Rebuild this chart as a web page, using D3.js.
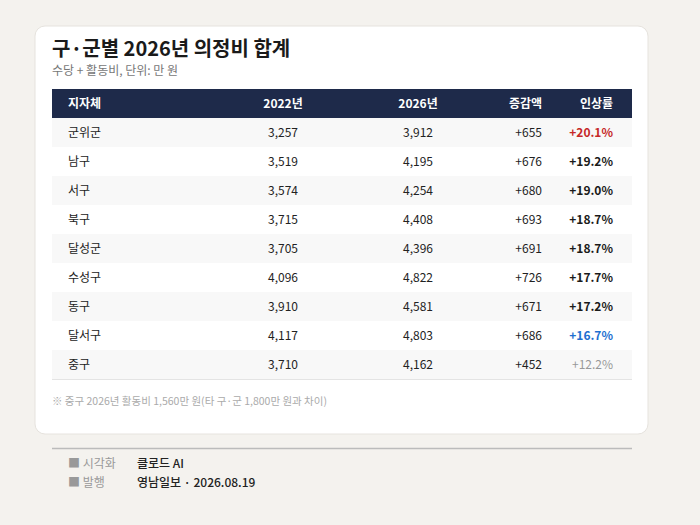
<!DOCTYPE html>
<html><head><meta charset="utf-8">
<script src="https://cdn.jsdelivr.net/npm/d3@7"></script>
<style>body{margin:0;background:#f4f2ee}svg{display:block;font-family:"Noto Sans CJK KR","Noto Sans",sans-serif}</style>
</head><body><svg id="canvas"></svg>
<script>
let width=700, height=525

const regions = ["군위군","남구","서구","북구","달성군","수성구","동구","달서구","중구"]
const y2022 = [3257,3519,3574,3715,3705,4096,3910,4117,3710]
const y2026 = [3912,4195,4254,4408,4396,4822,4581,4803,4162]
const rates = [20.1,19.2,19.0,18.7,18.7,17.7,17.2,16.7,12.2]
const headers = ["지자체","2022년","2026년","증감액","인상률"]

let svg = d3.select('#canvas').attr("width",width).attr("height",height)
let fmt = d3.format(",")

svg.append("rect").attr("width",width).attr("height",height).attr("fill","#f4f2ee")
svg.append("rect").attr("x",35).attr("y",26).attr("width",613).attr("height",408).attr("rx",10)
  .attr("fill","white").attr("stroke","#e6e3de")

svg.append("text").attr("x",52).attr("y",56).text("구·군별 2026년 의정비 합계")
  .style("font-size","20px").style("font-weight","bold").attr("fill","#1a1a1a")
svg.append("text").attr("x",52).attr("y",75).text("수당 + 활동비, 단위: 만 원")
  .style("font-size","12px").attr("fill","#777")

let y = d3.scaleBand().domain(regions).range([118,379])
let left = 52, right = 632

svg.append("rect").attr("x",left).attr("y",89).attr("width",right-left).attr("height",29).attr("fill","#1e2a4a")

// column anchor x and alignment
let cols = [{x:68,a:"start"},{x:283,a:"middle"},{x:418,a:"middle"},{x:542,a:"end"},{x:613,a:"end"}]
svg.selectAll(".hd").data(headers).enter().append("text")
  .attr("x",(d,i)=>cols[i].x).attr("y",108).attr("text-anchor",(d,i)=>cols[i].a)
  .text(d=>d).style("font-size","12px").style("font-weight","bold").attr("fill","white")

let rows = svg.selectAll(".row").data(regions).enter().append("g")
  .attr("transform",d=>`translate(0,${y(d)})`)
rows.append("rect").attr("x",left).attr("width",right-left).attr("height",y.bandwidth())
  .attr("fill",(d,i)=>i%2==0?"#f8f8f8":"white")

let rateColor = (r,i) => i==0 ? "#c62828" : i==regions.length-1 ? "#999" : i==regions.length-2 ? "#1e6fd0" : "#1a1a1a"

rows.each(function(d,i){
  let g = d3.select(this)
  let vals = [d, fmt(y2022[i]), fmt(y2026[i]), "+"+(y2026[i]-y2022[i]), "+"+rates[i].toFixed(1)+"%"]
  vals.forEach((v,j)=>{
    g.append("text").attr("x",cols[j].x).attr("y",y.bandwidth()/2+4.5).attr("text-anchor",cols[j].a)
      .text(v).style("font-size","12px")
      .style("font-weight", j==4 && i!=regions.length-1 ? "bold" : "normal")
      .attr("fill", j==4 ? rateColor(rates[i],i) : "#222")
  })
})
svg.append("line").attr("x1",left).attr("x2",right).attr("y1",379.5).attr("y2",379.5).attr("stroke","#e4e4e4")

svg.append("text").attr("x",52).attr("y",405).text("※ 중구 2026년 활동비 1,560만 원(타 구·군 1,800만 원과 차이)")
  .style("font-size","10.5px").attr("fill","#aaa")

svg.append("line").attr("x1",left).attr("x2",right).attr("y1",448.5).attr("y2",448.5).attr("stroke","#bbb").attr("stroke-width",1.5)
let foot = [["■ 시각화","클로드 AI"],["■ 발행","영남일보 · 2026.08.19"]]
foot.forEach((f,i)=>{
  svg.append("text").attr("x",68).attr("y",468+i*19).text(f[0]).style("font-size","12px").attr("fill","#999")
  svg.append("text").attr("x",137).attr("y",468+i*19).text(f[1]).style("font-size","12px").style("font-weight","500").attr("fill","#222")
})
</script></body></html>
